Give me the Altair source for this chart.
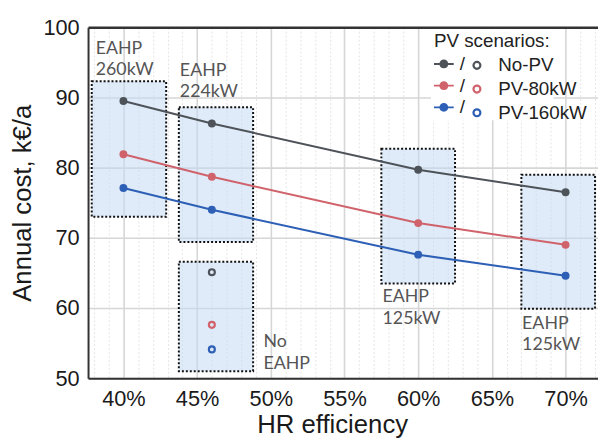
import altair as alt
import pandas as pd

# ---- data ----
eff = [40, 46, 60, 70]
series_names = ["No-PV", "PV-80kW", "PV-160kW"]
cost_no_pv = [89.5, 86.3, 79.7, 76.5]
cost_pv80 = [81.9, 78.7, 72.1, 69.0]
cost_pv160 = [77.1, 74.0, 67.6, 64.6]
noeahp_eff = [46, 46, 46]
noeahp_cost = [65.1, 57.6, 54.1]
colors = ["#4d5359", "#d0626b", "#2c5fb5"]

box_x1 = [37.85, 43.76, 43.76, 57.5, 67.0]
box_x2 = [42.9, 48.8, 48.8, 62.5, 72.0]
box_y1 = [73.0, 69.4, 51.0, 63.5, 59.9]
box_y2 = [92.3, 88.6, 66.6, 82.7, 79.0]

note_text = ["EAHP\n260kW", "EAHP\n224kW", "No\nEAHP", "EAHP\n125kW", "EAHP\n125kW"]
note_x = [38.12, 43.83, 49.5, 57.58, 67.05]
note_y = [96.9, 93.8, 55.1, 61.5, 57.75]

x_major = [40, 45, 50, 55, 60, 65, 70]
x_minor = [38, 39, 41, 42, 43, 44, 46, 47, 48, 49, 51, 52, 53, 54, 56, 57, 58,
           59, 61, 62, 63, 64, 66, 67, 68, 69, 71, 72]
y_ticks = [50, 55, 60, 65, 70, 75, 80, 85, 90, 95, 100]

# ---- tables ----
rows = []
for name, vals in zip(series_names, [cost_no_pv, cost_pv80, cost_pv160]):
    for e, v in zip(eff, vals):
        rows.append({"eff": e, "cost": v, "series": name})
lines_df = pd.DataFrame(rows)
hollow_df = pd.DataFrame({"eff": noeahp_eff, "cost": noeahp_cost, "series2": series_names})
box_df = pd.DataFrame({"x1": box_x1, "x2": box_x2, "y1": box_y1, "y2": box_y2})
note_df = pd.DataFrame({"x": note_x, "y": note_y, "t": note_text})

FONT = "Liberation Sans"
NBSP = "\u00a0"
FRAME = "#333333"
LINE_DOT = "M-1,-0.1H1V0.1H-1Z M-0.45,0A0.45,0.45 0 1,1 0.45,0A0.45,0.45 0 1,1 -0.45,0Z"
RING = "M-0.35,0A0.35,0.35 0 1,1 0.35,0A0.35,0.35 0 1,1 -0.35,0Z"

xscale = alt.Scale(domain=[37.6, 72.2], nice=False, zero=False)
yscale = alt.Scale(domain=[50, 100], nice=False, zero=False)

x_axis_major = alt.Axis(
    orient="bottom", values=x_major,
    labelExpr="datum.value + '%'",
    title="HR efficiency", titleFontSize=26, titleFontWeight="normal", titleFont=FONT,
    titleColor="#1a1a1a", titlePadding=2, titleX=247,
    labelFont=FONT, labelFontSize=22, labelColor="#1a1a1a", labelPadding=11,
    labelOverlap=False, labelFlush=False,
    ticks=False, domain=True, domainColor=FRAME, domainWidth=2,
    grid=True, gridColor="#d6d6d6", gridWidth=1.6,
)
x_axis_minor = alt.Axis(
    orient="bottom", values=x_minor, labels=False, title=None,
    ticks=False, domain=False, grid=True, gridColor="#e4e4e4", gridWidth=1, gridDash=[2, 2],
)
x_axis_top = alt.Axis(
    orient="top", values=x_major, labels=False, title=None, ticks=False, grid=False,
    domain=True, domainColor=FRAME, domainWidth=2.5,
)
y_axis = alt.Axis(
    values=y_ticks,
    labelExpr="datum.value % 10 === 0 ? datum.value : ''",
    title="Annual cost, k€/a", titleFontSize=26, titleFontWeight="normal", titleFont=FONT,
    titleColor="#1a1a1a", titlePadding=8,
    labelFont=FONT, labelFontSize=22, labelColor="#1a1a1a", labelPadding=9,
    labelOverlap=False, labelFlush=False,
    ticks=False, domain=True, domainColor=FRAME, domainWidth=2,
    grid=True,
    gridColor={"condition": {"test": "datum.value % 10 === 0", "value": "#d6d6d6"}, "value": "#e4e4e4"},
    gridDash={"condition": {"test": "datum.value % 10 === 0", "value": []}, "value": [2, 2]},
    gridWidth={"condition": {"test": "datum.value % 10 === 0", "value": 1.6}, "value": 1},
)

color_scale = alt.Scale(domain=series_names, range=colors)

boxes = alt.Chart(box_df).mark_rect(
    fill="#c5dbf2", fillOpacity=0.55, stroke="#111111", strokeDash=[2, 2], strokeWidth=2
).encode(
    x=alt.X("x1:Q", scale=xscale, axis=x_axis_major),
    x2="x2:Q",
    y=alt.Y("y1:Q", scale=yscale, axis=y_axis),
    y2="y2:Q",
)

lines = alt.Chart(lines_df).mark_line(strokeWidth=2).encode(
    x=alt.X("eff:Q", scale=xscale, axis=x_axis_minor),
    y=alt.Y("cost:Q", scale=yscale),
    color=alt.Color("series:N", scale=color_scale, legend=None),
)

points = alt.Chart(lines_df).mark_point(filled=True, size=64, opacity=1).encode(
    x=alt.X("eff:Q", scale=xscale, axis=x_axis_top),
    y=alt.Y("cost:Q", scale=yscale),
    color=alt.Color(
        "series:N", scale=color_scale,
        legend=alt.Legend(
            title="PV scenarios:" + NBSP * 9, orient="none", legendX=347, legendY=2,
            padding=3, fillColor="white", zindex=1,
            symbolType=LINE_DOT, symbolSize=400, symbolStrokeWidth=0, symbolOpacity=1,
            labelExpr="'/'", labelFont=FONT, labelFontSize=19, labelColor="#222222",
            labelOffset=6, rowPadding=2,
            titleFont=FONT, titleFontSize=19, titleFontWeight="normal", titleColor="#222222",
            titlePadding=3,
        ),
    ),
)

hollow = alt.Chart(hollow_df).mark_point(filled=False, size=36, strokeWidth=2.2, opacity=1).encode(
    x=alt.X("eff:Q", scale=xscale, axis=None),
    y=alt.Y("cost:Q", scale=yscale),
    stroke=alt.Stroke(
        "series2:N", scale=alt.Scale(domain=series_names, range=colors),
        legend=alt.Legend(
            title=" ", orient="none", legendX=379, legendY=2, padding=3, zindex=2,
            symbolType=RING, symbolSize=400, symbolStrokeWidth=2.2, symbolOpacity=1,
            symbolFillColor="transparent",
            labelFont=FONT, labelFontSize=19, labelColor="#222222",
            labelOffset=10, rowPadding=2,
            titleFont=FONT, titleFontSize=19, titleFontWeight="normal", titleColor="#222222",
            titlePadding=3,
        ),
    ),
)

notes = alt.Chart(note_df).mark_text(
    align="left", baseline="middle", lineBreak="\n", font="Lato", fontSize=18,
    color="#555555", lineHeight=21.5,
).encode(
    x=alt.X("x:Q", scale=xscale, axis=None),
    y=alt.Y("y:Q", scale=yscale),
    text="t:N",
)

chart = alt.layer(boxes, lines, points, hollow, notes).resolve_scale(
    color="independent", stroke="independent"
).resolve_axis(x="independent").properties(
    width=516, height=355,
    autosize=alt.AutoSizeParams(type="none"),
    padding={"left": 81, "top": 17, "right": 0, "bottom": 58},
    background="white",
).configure_view(stroke=None)

chart.save("out.html", embed_options={"renderer": "svg", "actions": False})
